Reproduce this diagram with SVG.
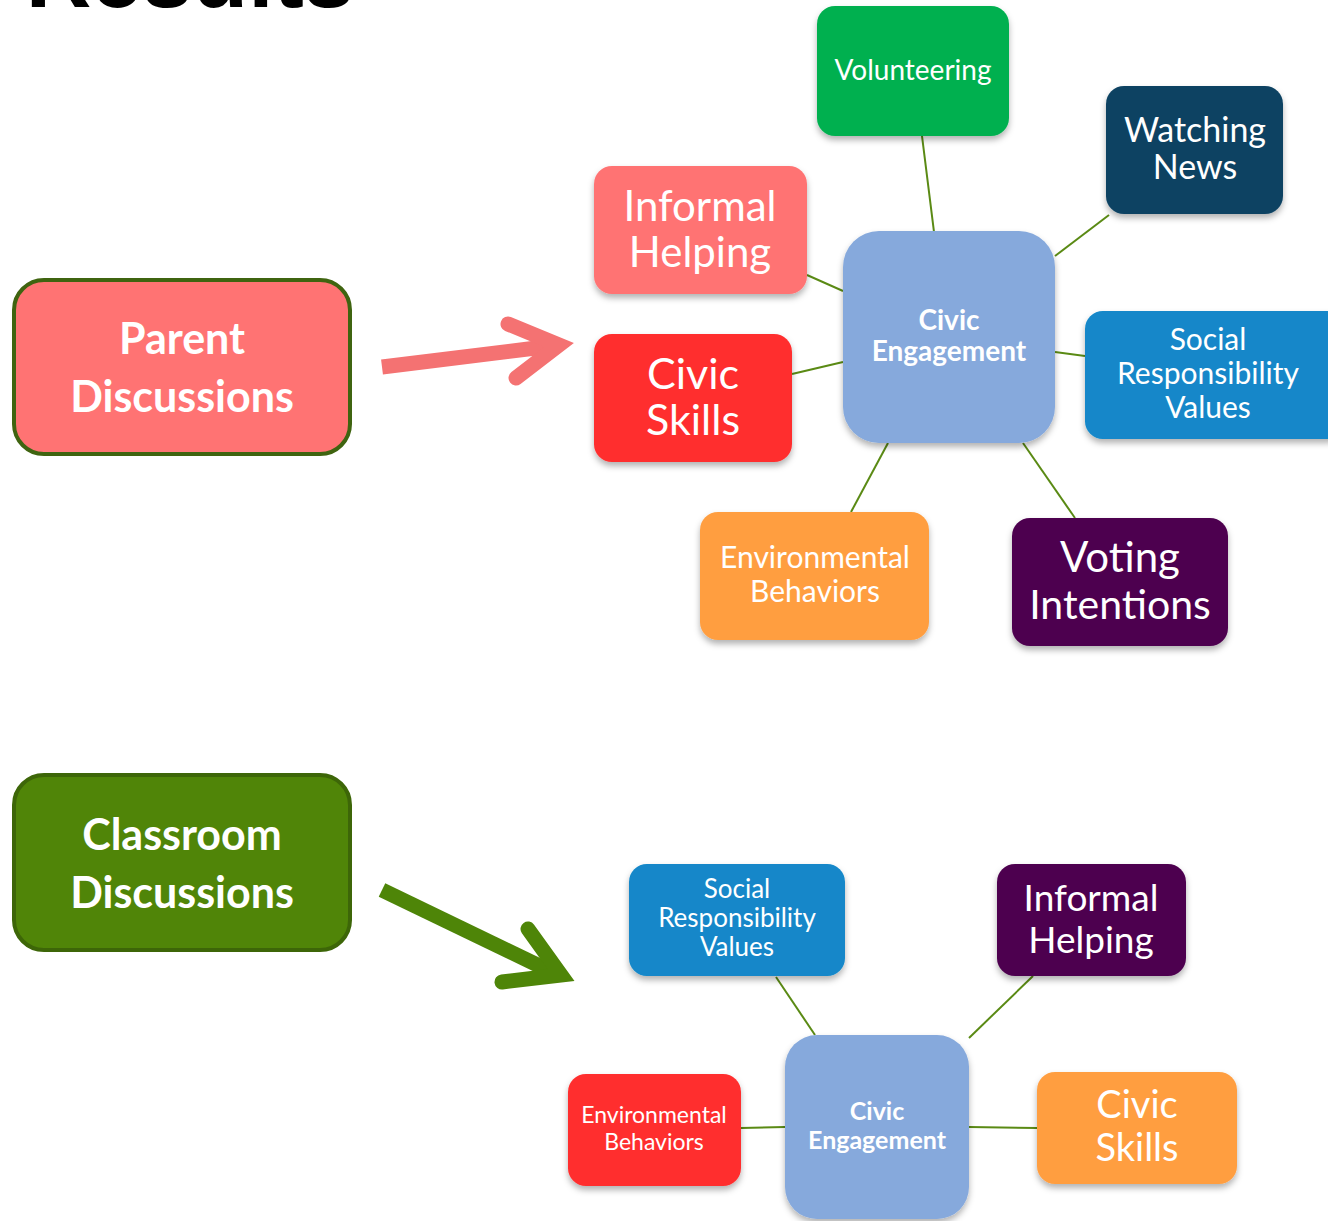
<svg xmlns="http://www.w3.org/2000/svg" width="1328" height="1221" viewBox="0 0 1328 1221">
<defs>
<filter id="sh" x="-20%" y="-20%" width="140%" height="150%">
<feDropShadow dx="0" dy="4" stdDeviation="3" flood-color="#000" flood-opacity="0.3"/>
</filter>
</defs>
<style>
text{font-family:Lato,"Noto Sans","Liberation Sans",sans-serif;fill:#fff;text-anchor:middle}
.b{font-weight:bold}
.conn line{stroke:#5a8a14;stroke-width:2}
.node rect{filter:url(#sh)}
</style>
<rect width="1328" height="1221" fill="#fff"/>
<text x="190" y="7" style="fill:#000;font-family:'Liberation Sans',Arial,sans-serif;font-weight:bold;font-size:91px">Results</text>

<g class="conn">
<line x1="922" y1="136" x2="934" y2="232"/>
<line x1="1109" y1="215" x2="1055" y2="256"/>
<line x1="1055" y1="352" x2="1085" y2="356"/>
<line x1="1023" y1="443" x2="1075" y2="518"/>
<line x1="888" y1="443" x2="851" y2="512"/>
<line x1="792" y1="374" x2="843" y2="362"/>
<line x1="807" y1="275" x2="843" y2="291"/>
<line x1="776" y1="977" x2="815" y2="1035"/>
<line x1="1033" y1="976" x2="969" y2="1038"/>
<line x1="741" y1="1128" x2="785" y2="1127"/>
<line x1="969" y1="1127" x2="1037" y2="1128"/>
</g>

<g id="arrow-parent" fill="none" stroke="#f47272" stroke-width="15" stroke-linecap="round" stroke-linejoin="miter">
<line x1="382" y1="367" x2="552" y2="346" stroke-linecap="butt"/>
<polyline points="508,324 559,345 516,378"/>
</g>
<g id="arrow-class" fill="none" stroke="#4e8508" stroke-width="15" stroke-linecap="round">
<line x1="382" y1="890" x2="552" y2="972" stroke-linecap="butt"/>
<polyline points="528,929 561,975 502,982"/>
</g>

<g id="parent" class="node">
<rect x="14" y="280" width="336" height="174" rx="30" fill="#ff7373" stroke="#3f6410" stroke-width="4" style="filter:none"/>
<text class="b" x="182" y="354" font-size="43">Parent</text>
<text class="b" x="182" y="412" font-size="43">Discussions</text>
</g>
<g id="classroom" class="node">
<rect x="14" y="775" width="336" height="175" rx="30" fill="#508508" stroke="#3d6608" stroke-width="4" style="filter:none"/>
<text class="b" x="182" y="850" font-size="43">Classroom</text>
<text class="b" x="182" y="908" font-size="43">Discussions</text>
</g>

<g id="volunteering" class="node">
<rect x="817" y="6" width="192" height="130" rx="18" fill="#00b050"/>
<text x="913" y="80" font-size="28">Volunteering</text>
</g>
<g id="watching" class="node">
<rect x="1106" y="86" width="177" height="128" rx="18" fill="#0b4262"/>
<text x="1195" y="142" font-size="34">Watching</text>
<text x="1195" y="179" font-size="34">News</text>
</g>
<g id="informal1" class="node">
<rect x="594" y="166" width="213" height="128" rx="18" fill="#ff7373"/>
<text x="700" y="221" font-size="42">Informal</text>
<text x="700" y="267" font-size="42">Helping</text>
</g>
<g id="skills1" class="node">
<rect x="594" y="334" width="198" height="128" rx="18" fill="#ff2d2d"/>
<text x="693" y="389" font-size="43">Civic</text>
<text x="693" y="435" font-size="43">Skills</text>
</g>
<g id="center1" class="node">
<rect x="843" y="231" width="212" height="212" rx="36" fill="#86a9dc"/>
<text class="b" x="949" y="330" font-size="28">Civic</text>
<text class="b" x="949" y="361" font-size="28">Engagement</text>
</g>
<g id="social1" class="node">
<rect x="1085" y="311" width="260" height="128" rx="18" fill="#1287c9"/>
<text x="1208" y="350" font-size="30">Social</text>
<text x="1208" y="384" font-size="30">Responsibility</text>
<text x="1208" y="418" font-size="30">Values</text>
</g>
<g id="env1" class="node">
<rect x="700" y="512" width="229" height="128" rx="18" fill="#ff9e40"/>
<text x="815" y="568" font-size="30">Environmental</text>
<text x="815" y="602" font-size="30">Behaviors</text>
</g>
<g id="voting" class="node">
<rect x="1012" y="518" width="216" height="128" rx="18" fill="#4d004f"/>
<text x="1120" y="572" font-size="42">Voting</text>
<text x="1120" y="619" font-size="41">Intentions</text>
</g>

<g id="social2" class="node">
<rect x="629" y="864" width="216" height="112" rx="18" fill="#1287c9"/>
<text x="737" y="898" font-size="26">Social</text>
<text x="737" y="927" font-size="26">Responsibility</text>
<text x="737" y="956" font-size="26">Values</text>
</g>
<g id="informal2" class="node">
<rect x="997" y="864" width="189" height="112" rx="18" fill="#4d004f"/>
<text x="1091" y="911" font-size="37">Informal</text>
<text x="1091" y="953" font-size="37">Helping</text>
</g>
<g id="center2" class="node">
<rect x="785" y="1035" width="184" height="184" rx="32" fill="#86a9dc"/>
<text class="b" x="877" y="1120" font-size="25">Civic</text>
<text class="b" x="877" y="1149" font-size="25">Engagement</text>
</g>
<g id="env2" class="node">
<rect x="568" y="1074" width="173" height="112" rx="18" fill="#ff2d2d"/>
<text x="654" y="1123" font-size="23">Environmental</text>
<text x="654" y="1150" font-size="23">Behaviors</text>
</g>
<g id="skills2" class="node">
<rect x="1037" y="1072" width="200" height="112" rx="18" fill="#ff9e40"/>
<text x="1137" y="1118" font-size="38">Civic</text>
<text x="1137" y="1161" font-size="38">Skills</text>
</g>
</svg>
